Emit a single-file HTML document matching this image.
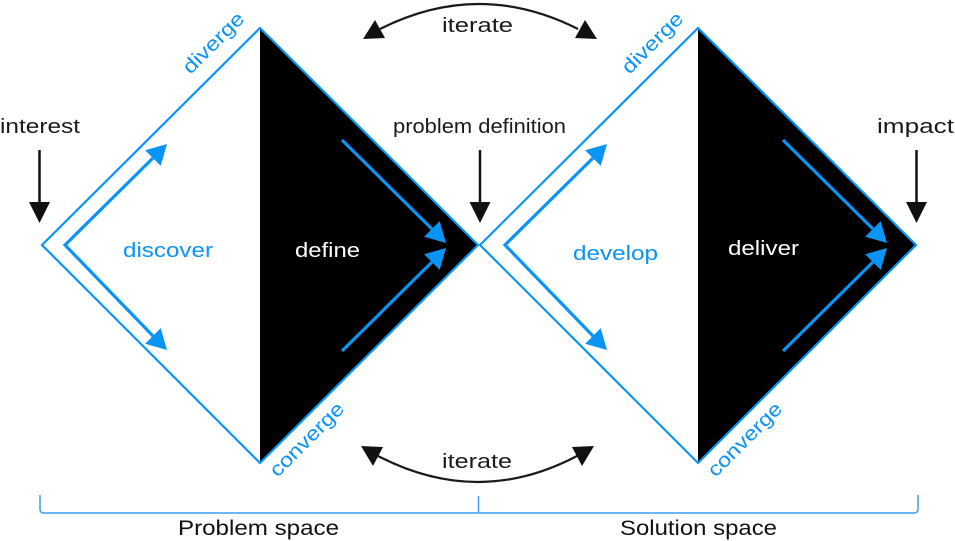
<!DOCTYPE html>
<html>
<head>
<meta charset="utf-8">
<style>
html,body{margin:0;padding:0;background:#fff;}
svg{display:block;}
text{font-family:"Liberation Sans",sans-serif;}
</style>
</head>
<body>
<svg width="955" height="541" viewBox="0 0 955 541" xmlns="http://www.w3.org/2000/svg">
  <!-- Diamond fills -->
  <polygon points="260,28 478,245 260,463" fill="#000"/>
  <g transform="translate(438,0)">
    <polygon points="260,28 478,245 260,463" fill="#000"/>
  </g>
  <!-- Diamond outlines -->
  <polygon points="42,245 260,28 478,245 260,463" fill="none" stroke="#0a94f5" stroke-width="2.2"/>
  <g transform="translate(438,0)">
    <polygon points="42,245 260,28 478,245 260,463" fill="none" stroke="#0a94f5" stroke-width="2.2"/>
  </g>

  <!-- Chevron arrows -->
  <g>
    <polyline points="153,158 65,245 153,336" fill="none" stroke="#0a94f5" stroke-width="3.2"/>
    <polygon points="167,144 145.1,150.3 160.7,165.9" fill="#0a94f5"/>
    <polygon points="167,350 160.7,328.1 145.1,343.7" fill="#0a94f5"/>
  </g>
  <g transform="translate(440,0)">
    <polyline points="153,158 65,245 153,336" fill="none" stroke="#0a94f5" stroke-width="3.2"/>
    <polygon points="167,144 145.1,150.3 160.7,165.9" fill="#0a94f5"/>
    <polygon points="167,350 160.7,328.1 145.1,343.7" fill="#0a94f5"/>
  </g>

  <!-- Converging arrows in black triangles -->
  <g>
    <line x1="342" y1="140" x2="432" y2="229" stroke="#0a94f5" stroke-width="3.2"/>
    <polygon points="446,243 439.7,221.1 424.1,236.7" fill="#0a94f5"/>
    <line x1="342" y1="351" x2="432" y2="262" stroke="#0a94f5" stroke-width="3.2"/>
    <polygon points="446,248 439.7,269.9 424.1,254.3" fill="#0a94f5"/>
  </g>
  <g transform="translate(441,0)">
    <line x1="342" y1="140" x2="432" y2="229" stroke="#0a94f5" stroke-width="3.2"/>
    <polygon points="446,243 439.7,221.1 424.1,236.7" fill="#0a94f5"/>
    <line x1="342" y1="351" x2="432" y2="262" stroke="#0a94f5" stroke-width="3.2"/>
    <polygon points="446,248 439.7,269.9 424.1,254.3" fill="#0a94f5"/>
  </g>

  <!-- Vertical black arrows -->
  <g stroke="#111" stroke-width="2.5">
    <line x1="39.5" y1="150" x2="39.5" y2="206"/>
    <line x1="480" y1="150" x2="480" y2="206"/>
    <line x1="916.5" y1="150" x2="916.5" y2="206"/>
  </g>
  <g fill="#111">
    <polygon points="29,202 50,202 39.5,223"/>
    <polygon points="469.5,202 490.5,202 480,223"/>
    <polygon points="906,202 927,202 916.5,223"/>
  </g>

  <!-- Iterate arcs -->
  <path d="M380,29 Q479,-21 578,29" fill="none" stroke="#1a1a1a" stroke-width="2.2"/>
  <polygon points="363,39 385,38 375,20" fill="#111"/>
  <polygon points="597,39 575,38 585,20" fill="#111"/>
  <path d="M378,456 Q478,508 577,456" fill="none" stroke="#1a1a1a" stroke-width="2.2"/>
  <polygon points="361,446 383,447 373,466" fill="#111"/>
  <polygon points="594,446 572,447 582,466" fill="#111"/>

  <!-- Bracket -->
  <path d="M40,495 L40,509 Q40,513 44,513 L914,513 Q918,513 918,509 L918,495" fill="none" stroke="#3a9ff0" stroke-width="1.5"/>
  <line x1="478.5" y1="496" x2="478.5" y2="513" stroke="#3a9ff0" stroke-width="1.5"/>

  <!-- Black labels -->
  <g fill="#1a1a1a" font-size="20">
    <text x="0" y="133" textLength="80" lengthAdjust="spacingAndGlyphs">interest</text>
    <text x="393" y="133" textLength="173" lengthAdjust="spacingAndGlyphs">problem definition</text>
    <text x="877" y="133" textLength="77" lengthAdjust="spacingAndGlyphs">impact</text>
    <text x="442" y="32" textLength="71" lengthAdjust="spacingAndGlyphs">iterate</text>
    <text x="442" y="468" textLength="70" lengthAdjust="spacingAndGlyphs">iterate</text>
  </g>
  <g fill="#111" font-size="21">
    <text x="178" y="535" textLength="161" lengthAdjust="spacingAndGlyphs">Problem space</text>
    <text x="620" y="535" textLength="157" lengthAdjust="spacingAndGlyphs">Solution space</text>
  </g>

  <!-- Phase labels -->
  <g font-size="20">
    <text x="123" y="257" fill="#0a94f5" textLength="90" lengthAdjust="spacingAndGlyphs">discover</text>
    <text x="295" y="257" fill="#fff" textLength="65" lengthAdjust="spacingAndGlyphs">define</text>
    <text x="573" y="260" fill="#0a94f5" textLength="85" lengthAdjust="spacingAndGlyphs">develop</text>
    <text x="728" y="255" fill="#fff" textLength="71" lengthAdjust="spacingAndGlyphs">deliver</text>
  </g>

  <!-- Rotated labels -->
  <g font-size="20" fill="#0a94f5">
    <text transform="translate(190.5,75) rotate(-45)" textLength="78" lengthAdjust="spacingAndGlyphs">diverge</text>
    <text transform="translate(629.5,75) rotate(-45)" textLength="78" lengthAdjust="spacingAndGlyphs">diverge</text>
    <text transform="translate(277.5,478) rotate(-45)" textLength="96" lengthAdjust="spacingAndGlyphs">converge</text>
    <text transform="translate(715.5,478) rotate(-45)" textLength="96" lengthAdjust="spacingAndGlyphs">converge</text>
  </g>
</svg>
</body>
</html>
